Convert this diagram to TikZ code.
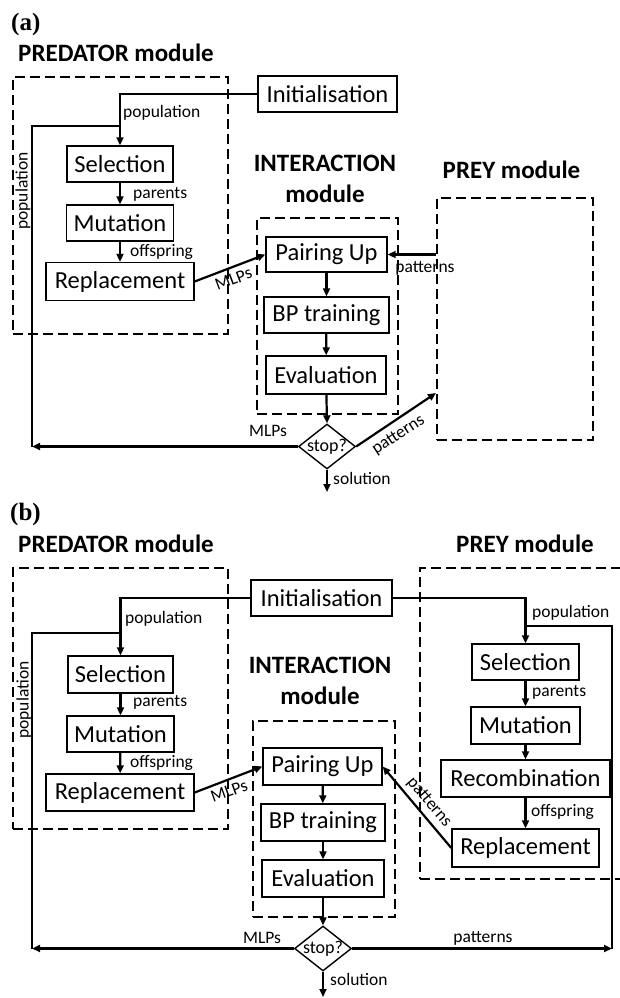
\documentclass[tikz,border=0pt]{standalone}
\usepackage{fontspec}
\setmainfont{Carlito}
\newfontfamily\panelfont{Liberation Serif}
\usetikzlibrary{arrows.meta,shapes.geometric}

\begin{document}
\begin{tikzpicture}[x=1pt,y=-1pt,
  box/.style={draw, line width=1.4pt, minimum height=36pt, inner sep=0pt,
    font=\fontsize{24.5}{28}\selectfont},
  module/.style={draw, line width=1.5pt, dash pattern=on 10pt off 5pt,
    anchor=north west, inner sep=0pt},
  title/.style={font=\fontsize{25}{31}\selectfont\bfseries, align=center, inner sep=0pt},
  panel/.style={font=\panelfont\fontsize{25}{28}\selectfont\bfseries, inner sep=0pt, anchor=west},
  lab/.style={font=\fontsize{17.5}{20}\selectfont, inner sep=0pt},
  flow/.style={line width=2.2pt, -{Triangle[length=8pt,width=7pt]}},
  wire/.style={line width=2.2pt},
  decision/.style={diamond, draw, line width=1.4pt, minimum width=57pt,
    minimum height=45pt, inner sep=0pt,
    label={[font=\fontsize{18}{20}\selectfont]center:stop?}},
]
\clip (0,0) rectangle (620,998);
\useasboundingbox (0,0) rectangle (620,998);

% ================= panel (a) =================
\node[panel] (pa) at (11,24) {(a)};
\node[title, anchor=west] (predTitleA) at (18,53) {PREDATOR module};
\node[title, anchor=north] (interTitleA) at (325,155) {INTERACTION\\module};
\node[title] (preyTitleA) at (511.5,170) {PREY module};

% module frames
\node[module, minimum width=215pt, minimum height=257pt] (predA) at (12,76) {};
\node[module, minimum width=141pt, minimum height=196pt] (interA) at (256,217) {};
\node[module, minimum width=156pt, minimum height=242pt] (preyA) at (436,197) {};

% steps
\node[box, minimum width=139pt] (initA) at (327.5,94) {Initialisation};
\node[box, minimum width=106pt] (selA) at (120,164) {Selection};
\node[box, minimum width=107pt] (mutA) at (120,223) {Mutation};
\node[box, minimum width=148pt, minimum height=38pt] (repA) at (120,281.5) {Replacement};
\node[box, minimum width=121pt, minimum height=35pt] (pairA) at (326.5,254.5) {Pairing Up};
\node[box, minimum width=125pt] (bpA) at (326.5,315) {BP training};
\node[box, minimum width=120pt, minimum height=38pt] (evalA) at (326,375) {Evaluation};
\node[decision] (stopA) at (327,446.5) {};

\coordinate (retA) at (32,446.5);
\coordinate (joinA) at (120,126);
\coordinate (preyInA) at (436,393);
\coordinate (solA) at (327,492);

% connectors
\draw[flow] (initA.west) -| (selA.north);
\draw[wire] (retA) |- (joinA);
\draw[flow] (selA) -- (mutA);
\draw[flow] (mutA) -- (repA);
\draw[flow] (repA.east) -- (pairA.west);
\draw[flow] (preyA.west |- pairA.east) -- (pairA.east);
\draw[flow] (pairA) -- (bpA);
\draw[flow] (bpA) -- (evalA);
\draw[flow] (evalA) -- (stopA.north);
\draw[flow] (stopA.west) -- (retA);
\draw[flow] (stopA.east) -- (preyInA);
\draw[flow] (stopA.south) -- (solA);

% labels
\node[lab, anchor=west] (lpopA) at (123,113) {population};
\node[lab, rotate=90] (lpopvA) at (23,191) {population};
\node[lab, anchor=west] (lparA) at (133,194) {parents};
\node[lab, anchor=west] (loffA) at (130,251.5) {offspring};
\node[lab, rotate=20.6] (lmlpA) at (233.5,279) {MLPs};
\node[lab] (lpatA) at (425,268.5) {patterns};
\node[lab] (lmlpA2) at (268,431) {MLPs};
\node[lab, rotate=33.2] (lpatA2) at (398.5,435) {patterns};
\node[lab, anchor=west] (lsolA) at (333,478) {solution};

% ================= panel (b) =================
\node[panel] (pb) at (10,514) {(b)};
\node[title, anchor=west] (predTitleB) at (18,543.5) {PREDATOR module};
\node[title, anchor=north] (interTitleB) at (320,657) {INTERACTION\\module};
\node[title] (preyTitleB) at (525,543.5) {PREY module};

% module frames
\node[module, minimum width=215pt, minimum height=261pt] (predB) at (12,567) {};
\node[module, minimum width=142pt, minimum height=196pt] (interB) at (252,720) {};
\node[module, minimum width=215pt, minimum height=311pt] (preyB) at (419,567) {};

% steps
\node[box, minimum width=141pt] (initB) at (321.5,598) {Initialisation};
\node[box, minimum width=105pt, minimum height=37pt] (selB) at (120.5,674.5) {Selection};
\node[box, minimum width=107pt] (mutB) at (120.5,734) {Mutation};
\node[box, minimum width=148pt, minimum height=37pt] (repB) at (120,792.5) {Replacement};
\node[box, minimum width=119pt, minimum height=37pt] (pairB) at (322.5,766.5) {Pairing Up};
\node[box, minimum width=124pt, minimum height=37pt] (bpB) at (323,822.5) {BP training};
\node[box, minimum width=122pt, minimum height=37pt] (evalB) at (323,878.5) {Evaluation};
\node[decision] (stopB) at (323,948.5) {};

\node[box, minimum width=107pt] (pselB) at (525.5,662) {Selection};
\node[box, minimum width=109pt, minimum height=37pt] (pmutB) at (525.5,725.5) {Mutation};
\node[box, minimum width=169pt, minimum height=37pt] (precB) at (525.5,778.5) {Recombination};
\node[box, minimum width=147pt, minimum height=38pt] (prepB) at (525.5,848) {Replacement};

\coordinate (retB) at (32,948.5);
\coordinate (joinB) at (120.5,633);
\coordinate (retB2) at (612,948.5);
\coordinate (joinB2) at (525.5,626);
\coordinate (solB) at (323,997);

% connectors
\draw[flow] (initB.west) -| (selB.north);
\draw[wire] (retB) |- (joinB);
\draw[flow] (selB) -- (mutB);
\draw[flow] (mutB) -- (repB);
\draw[flow] (repB.east) -- (pairB.west);
\draw[flow] (pairB) -- (bpB);
\draw[flow] (bpB) -- (evalB);
\draw[flow] (evalB) -- (stopB.north);
\draw[flow] (stopB.west) -- (retB);
\draw[flow] (stopB.east) -- (retB2);
\draw[wire] (retB2) |- (joinB2);
\draw[flow] (stopB.south) -- (solB);
\draw[flow] (initB.east) -| (pselB.north);
\draw[flow] (pselB) -- (pmutB);
\draw[flow] (pmutB) -- (precB);
\draw[flow] (precB) -- (prepB);
\draw[flow] (prepB.west) -- (pairB.east);

% labels
\node[lab, anchor=west] (lpopB) at (125,619) {population};
\node[lab, rotate=90] (lpopvB) at (24,700) {population};
\node[lab, anchor=west] (lparB) at (133,702.5) {parents};
\node[lab, anchor=west] (loffB) at (130,762.5) {offspring};
\node[lab, rotate=19.7] (lmlpB) at (229,791) {MLPs};
\node[lab] (lmlpB2) at (262,938) {MLPs};
\node[lab] (lpatB2) at (483,938) {patterns};
\node[lab, anchor=west] (lsolB) at (330,979) {solution};
\node[lab, anchor=west] (lpopB2) at (532,612.5) {population};
\node[lab, anchor=west] (lparB2) at (532,692) {parents};
\node[lab, anchor=west] (loffB2) at (531,811.5) {offspring};
\node[lab, rotate=-49.3] (lpatB) at (429,802.5) {patterns};
\end{tikzpicture}
\end{document}
